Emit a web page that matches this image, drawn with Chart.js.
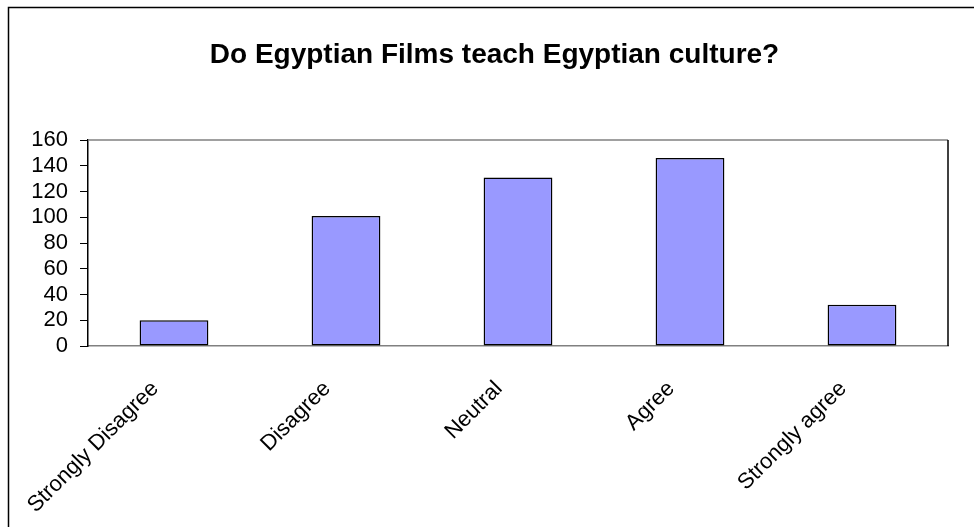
<!DOCTYPE html>
<html>
<head>
<meta charset="utf-8">
<script src="https://cdn.jsdelivr.net/npm/chart.js@4.4.1/dist/chart.umd.min.js"></script>
<style>
  html, body { margin: 0; padding: 0; background: #fff; }
  #wrap { width: 974px; height: 527px; position: relative; }
</style>
</head>
<body>
<div id="wrap"><canvas id="c"></canvas></div>
<script>
// Survey answers: "Do Egyptian Films teach Egyptian culture?"
const categories = ['Strongly Disagree', 'Disagree', 'Neutral', 'Agree', 'Strongly agree'];
const responses = [20, 101, 131, 146, 32];
const yTicks = [0, 20, 40, 60, 80, 100, 120, 140, 160];
const titleText = 'Do Egyptian Films teach Egyptian culture?';

const FONT = "'Liberation Sans', Arial, sans-serif";

// Outer frame of the chart sheet plus the plot-area outline (top and right edges)
const framePlugin = {
  id: 'frame',
  beforeDraw(chart) {
    const ctx = chart.ctx;
    ctx.save();
    ctx.fillStyle = '#fff';
    ctx.fillRect(0, 0, chart.width, chart.height);
    ctx.strokeStyle = '#000';
    ctx.lineWidth = 1.5;
    ctx.strokeRect(8.5, 7.5, chart.width + 50, chart.height + 50);
    ctx.restore();
  },
  afterDatasetsDraw(chart) {
    const { ctx, chartArea: a } = chart;
    ctx.save();
    ctx.lineWidth = 1.5;
    ctx.strokeStyle = '#808080';
    ctx.beginPath();
    ctx.moveTo(a.left, a.top);
    ctx.lineTo(a.right, a.top);
    ctx.stroke();
    ctx.strokeStyle = '#000';
    ctx.beginPath();
    ctx.moveTo(a.right, a.top);
    ctx.lineTo(a.right, a.bottom);
    ctx.stroke();
    ctx.restore();
  }
};

new Chart(document.getElementById('c'), {
  type: 'bar',
  data: {
    labels: categories,
    datasets: [{
      data: responses,
      backgroundColor: '#9999FF',
      borderColor: '#000',
      borderWidth: 1.5,
      borderSkipped: false,
      barPercentage: 0.4,
      categoryPercentage: 1.0
    }]
  },
  options: {
    responsive: true,
    maintainAspectRatio: false,
    animation: false,
    layout: { padding: { top: 10, left: 21, right: 6, bottom: 0 } },
    plugins: {
      legend: { display: false },
      tooltip: { enabled: false },
      title: {
        display: true,
        text: titleText,
        color: '#000',
        font: { family: FONT, size: 28, weight: 'bold' },
        padding: { top: 28, bottom: 68.5 }
      }
    },
    scales: {
      x: {
        afterFit(scale) { scale.height = 181; },
        grid: { display: false, drawTicks: false },
        border: { display: true, color: '#808080', width: 1.5 },
        ticks: {
          color: '#000',
          font: { family: FONT, size: 22 },
          maxRotation: 45,
          minRotation: 45,
          autoSkip: false,
          padding: 30,
          labelOffset: -19
        }
      },
      y: {
        min: 0,
        max: 160,
        afterBuildTicks(scale) {
          scale.ticks = yTicks.map(v => ({ value: v }));
        },
        afterFit(scale) { scale.width = 67; },
        grid: { drawOnChartArea: false, drawTicks: true, tickLength: 8, color: '#000', lineWidth: 1 },
        border: { display: true, color: '#000', width: 1.5 },
        ticks: {
          color: '#000',
          font: { family: FONT, size: 22 },
          padding: 12,
          autoSkip: false
        }
      },
      // empty right-hand gutter between the plot area and the sheet edge
      gutter: {
        type: 'linear',
        position: 'right',
        afterFit(scale) { scale.width = 20; },
        grid: { display: false },
        border: { display: false },
        ticks: { display: false }
      }
    }
  },
  plugins: [framePlugin]
});
</script>
</body>
</html>
